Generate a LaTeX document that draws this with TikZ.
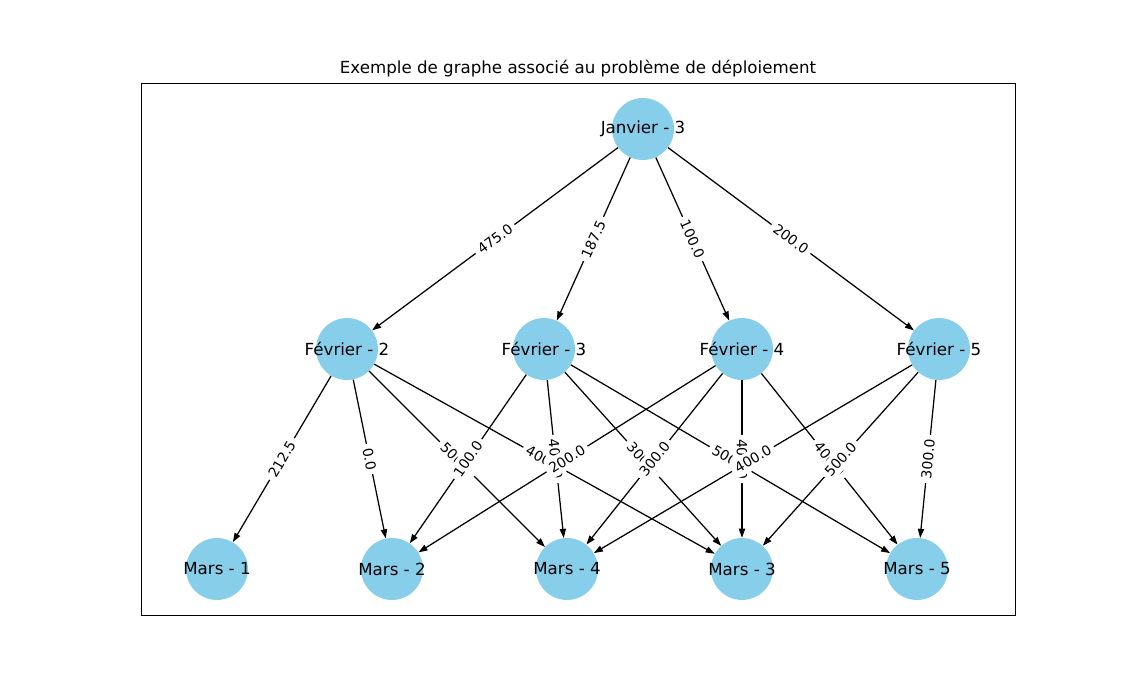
\documentclass[tikz,border=0pt]{standalone}
\usepackage{fontspec}
\setmainfont{DejaVu Sans}
\usetikzlibrary{arrows.meta}
\definecolor{skyblue}{HTML}{87CEEB}
\tikzset{
 vertex/.style={circle, fill=skyblue, minimum size=44.6pt, inner sep=0pt},
 vlabel/.style={font=\fontsize{12}{14}\selectfont, inner sep=0pt},
 edge/.style={-{Triangle[length=6.5pt,width=4.5pt]}, line width=0.9pt},
 elabel/.style={midway, sloped, fill=white, rounded corners=3pt, inner xsep=3pt, inner ysep=3pt, font=\fontsize{10}{12}\selectfont},
 frame/.style={draw, line width=0.8pt}
}
\begin{document}
\begin{tikzpicture}[x=0.72pt,y=-0.72pt]
\useasboundingbox (0,0) rectangle (1128,691);
\node[frame, minimum width=874*0.72pt, minimum height=532*0.72pt, inner sep=0pt, anchor=north west] (ax) at (141,83) {};
\node[font=\fontsize{12}{14}\selectfont] (title) at (578,69) {Exemple de graphe associé au problème de déploiement};
% vertices
\node[vertex] (j) at (643,129) {};
\node[vertex] (f2) at (347,349) {};
\node[vertex] (f3) at (544,349) {};
\node[vertex] (f4) at (742,349) {};
\node[vertex] (f5) at (939,349) {};
\node[vertex] (m1) at (217,569) {};
\node[vertex] (m2) at (392,569) {};
\node[vertex] (m4) at (567,569) {};
\node[vertex] (m3) at (742,569) {};
\node[vertex] (m5) at (917,569) {};
% edges
\draw[edge] (j) -- (f2);
\draw[edge] (j) -- (f3);
\draw[edge] (j) -- (f4);
\draw[edge] (j) -- (f5);
\draw[edge] (f2) -- (m1);
\draw[edge] (f2) -- (m2);
\draw[edge] (f2) -- (m4);
\draw[edge] (f2) -- (m3);
\draw[edge] (f3) -- (m2);
\draw[edge] (f3) -- (m4);
\draw[edge] (f3) -- (m3);
\draw[edge] (f3) -- (m5);
\draw[edge] (f4) -- (m2);
\draw[edge] (f4) -- (m4);
\draw[edge] (f4) -- (m3);
\draw[edge] (f4) -- (m5);
\draw[edge] (f5) -- (m4);
\draw[edge] (f5) -- (m3);
\draw[edge] (f5) -- (m5);
% vertex labels
\node[vlabel] (jl) at (j) {Janvier - 3};
\node[vlabel] (f2l) at (f2) {Février - 2};
\node[vlabel] (f3l) at (f3) {Février - 3};
\node[vlabel] (f4l) at (f4) {Février - 4};
\node[vlabel] (f5l) at (f5) {Février - 5};
\node[vlabel] (m1l) at (m1) {Mars - 1};
\node[vlabel] (m2l) at (m2) {Mars - 2};
\node[vlabel] (m4l) at (m4) {Mars - 4};
\node[vlabel] (m3l) at (m3) {Mars - 3};
\node[vlabel] (m5l) at (m5) {Mars - 5};
% edge labels
\path (j) -- node[elabel] {475.0} (f2);
\path (j) -- node[elabel] {187.5} (f3);
\path (j) -- node[elabel] {100.0} (f4);
\path (j) -- node[elabel] {200.0} (f5);
\path (f2) -- node[elabel] {212.5} (m1);
\path (f2) -- node[elabel] {0.0} (m2);
\path (f2) -- node[elabel] {500.0} (m4);
\path (f2) -- node[elabel] {400.0} (m3);
\path (f3) -- node[elabel] {100.0} (m2);
\path (f3) -- node[elabel] {400.0} (m4);
\path (f3) -- node[elabel] {300.0} (m3);
\path (f3) -- node[elabel] {500.0} (m5);
\path (f4) -- node[elabel] {200.0} (m2);
\path (f4) -- node[elabel] {300.0} (m4);
\path (f4) -- node[elabel] {400.0} (m3);
\path (f4) -- node[elabel] {400.0} (m5);
\path (f5) -- node[elabel] {400.0} (m4);
\path (f5) -- node[elabel] {500.0} (m3);
\path (f5) -- node[elabel] {300.0} (m5);
\end{tikzpicture}
\end{document}
